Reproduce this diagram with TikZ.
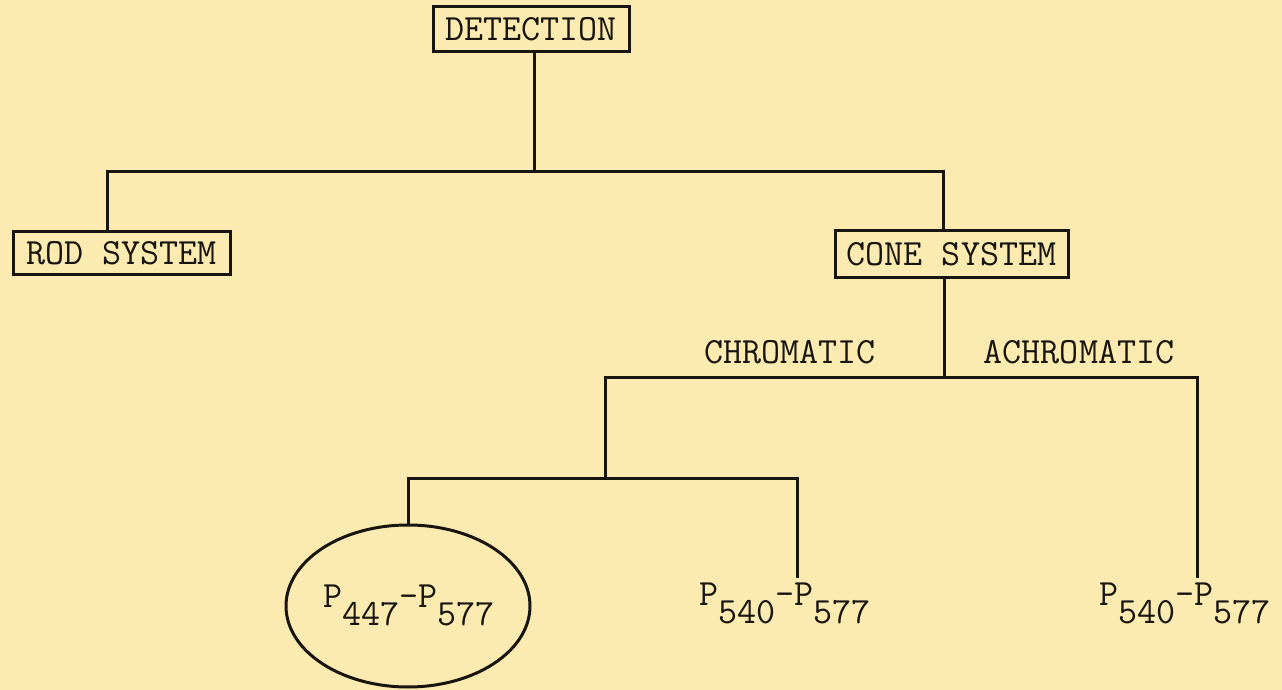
\documentclass[tikz,border=0pt]{standalone}
\usetikzlibrary{shapes.geometric}
\definecolor{paper}{RGB}{252,235,176}
\definecolor{ink}{RGB}{24,20,16}
\newcommand\lowr[1]{\raisebox{-9pt}{#1}}
\begin{document}
\begin{tikzpicture}[x=0.5pt,y=-0.5pt,
  every node/.style={font=\ttfamily\fontsize{18.5}{22}\selectfont, text=ink},
  line/.style={draw=ink, line width=1.5pt},
  tbox/.style={draw=ink, line width=1.5pt, inner sep=0pt},
  ptext/.style={inner sep=2.5pt},
  oval/.style={ellipse, draw=ink, line width=1.5pt, inner sep=0pt}]
\fill[paper] (0,0) rectangle (1282,690);
\useasboundingbox (0,0) rectangle (1282,690);
% boxes
\node[tbox, minimum width=98pt, minimum height=22.5pt] (det) at (531,29.5) {DETECTION};
\node[tbox, minimum width=108.5pt, minimum height=21.5pt] (rod) at (121.5,253.5) {ROD SYSTEM};
\node[tbox, minimum width=116.5pt, minimum height=23.5pt] (cone) at (951.5,254.5) {CONE SYSTEM};
% labels
\node (chr) at (790,352) {CHROMATIC};
\node (achr) at (1079,352) {ACHROMATIC};
% leaves
\node[oval, minimum width=122pt, minimum height=81pt] (e) at (408,606) {};
\node[ptext] (t1) at (409,605) {P\lowr{447}-P\lowr{577}};
\node[ptext] (t2) at (785,603.5) {P\lowr{540}-P\lowr{577}};
\node[ptext] (t3) at (1185,603.5) {P\lowr{540}-P\lowr{577}};
% junctions
\coordinate (j1) at (534,172);
\coordinate (j2) at (944,377);
\coordinate (j3) at (605,478);
% connectors
\draw[line] (det.south -| j1) -- (j1);
\draw[line] ([xshift=-7.25pt]rod.north) |- (j1) -| ([xshift=-4.25pt]cone.north);
\draw[line] (cone.south -| j2) -- (j2);
\draw[line] (j3) |- (j2) -| ([xshift=6pt]t3.north);
\draw[line] (e.north) |- (j3) -| ([xshift=6pt]t2.north);
\end{tikzpicture}
\end{document}
